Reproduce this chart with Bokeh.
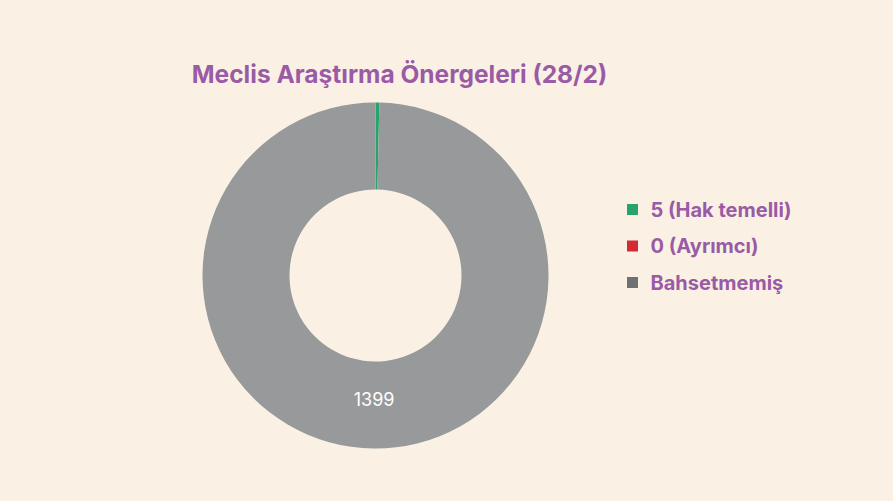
import numpy as np
from bokeh.plotting import figure
from bokeh.models import Range1d, ColumnDataSource
from bokeh.core.properties import value
from bokeh.embed import file_html
from bokeh.resources import INLINE

title = "Meclis Araştırma Önergeleri (28/2)"
labels = ["5 (Hak temelli)", "0 (Ayrımcı)", "Bahsetmemiş"]
counts = [5, 0, 1399]
slice_colors = ["#27a46e", "#d42a35", "#97999b"]
legend_colors = ["#27a46e", "#d42a35", "#6d7173"]

BG = "#faf1e4"
PURPLE = "#9a5ba6"

W, H = 877, 485
p = figure(width=W, height=H, output_backend="svg", toolbar_location=None,
           x_range=Range1d(0, W), y_range=Range1d(501 - H, 501),
           min_border=0, outline_line_color=None)
p.axis.visible = False
p.grid.visible = False
p.background_fill_color = BG
p.border_fill_color = BG

# pie geometry (data coords: x = screen x, y = 501 - screen y)
cx, cy = 375, 501 - 275
r_out, r_in = 173, 86

total = sum(counts)
angles = [c / total * 2 * np.pi for c in counts]
ends = []
starts = []
cur = np.pi / 2
for a in angles:
    ends.append(cur)
    starts.append(cur - a)
    cur -= a

src = ColumnDataSource(dict(start=[s for s, c in zip(starts, counts) if c > 0],
                            end=[e for e, c in zip(ends, counts) if c > 0],
                            color=[col for col, c in zip(slice_colors, counts) if c > 0]))
p.annular_wedge(x=cx, y=cy, inner_radius=r_in, outer_radius=r_out,
                start_angle="start", end_angle="end", color="color",
                line_color=None, source=src)

# value label inside the largest slice
big = int(np.argmax(counts))
mid = (starts[big] + ends[big]) / 2
rl = (r_in + r_out) / 2 - 6
p.text(x=[cx + rl * np.cos(mid)], y=[cy + rl * np.sin(mid)], text=[str(counts[big])],
       text_color="white", text_font=value("Inter"), text_font_size="18px",
       text_align="center", text_baseline="middle")

# title
p.text(x=[399], y=[501 - 73], text=[title], text_color=PURPLE,
       text_font=value("Inter"), text_font_style="bold", text_font_size="24.5px",
       text_align="center", text_baseline="middle")

# legend
ly = [501 - 209, 501 - 245.5, 501 - 282]
p.rect(x=[632] * 3, y=ly, width=11, height=11, color=legend_colors, line_color=None)
p.text(x=[650] * 3, y=ly, text=labels, text_color=PURPLE,
       text_font=value("Inter"), text_font_style="bold", text_font_size="20px",
       text_align="left", text_baseline="middle")

html = file_html(p, INLINE)
html = html.replace("<head>", "<head><style>html,body{background:%s;}</style>" % BG, 1)
open("out.html", "w").write(html)
